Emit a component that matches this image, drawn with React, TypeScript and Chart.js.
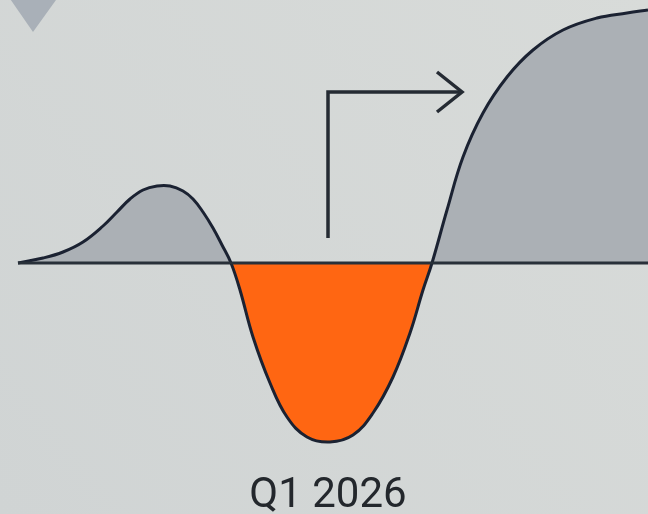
import React, { useEffect, useRef } from "react";
import { Chart, registerables } from "chart.js";

Chart.register(...registerables);

// Main curve (x position along the timeline, value relative to the baseline)
const curveX = [18, 43, 63, 83, 103, 117, 130, 143, 157, 170, 183, 193, 203, 213, 222, 231, 240, 253, 270, 287, 307, 330, 353, 373, 393, 410, 423, 432, 447, 463, 483, 507, 533, 563, 597, 627, 648];
const curveY = [0, 5, 11, 21, 37, 51, 64, 73, 77, 77, 72, 64, 51, 35, 18, 0, -27, -74, -120, -154, -174, -179, -172, -150, -114, -70, -27, 0, 53, 106, 150, 186, 213, 233, 245, 250, 253];

// Baseline
const baseX = [18, 648];
const baseY = [0, 0];

// Turn arrow
const arrowX = [328, 328, 461];
const arrowY = [25, 171, 171];
const headX = [437, 462, 437];
const headY = [191, 171, 151];

// Cut-off marker at top-left
const markX = [6, 61, 33, 6];
const markY = [270, 270, 231, 270];

const labelText = "Q1 2026";
const labelX = 328;
const labelY = -244;

const X_MIN = 0, X_MAX = 648, Y_MIN = -251, Y_MAX = 263;

const pts = (xs: number[], ys: number[]) => xs.map((x, i) => ({ x, y: ys[i] }));

export default function App() {
  const ref = useRef<HTMLCanvasElement | null>(null);
  useEffect(() => {
    document.body.style.margin = "0";
    const canvas = ref.current!;
    const bgPlugin = {
      id: "bg",
      beforeDraw(chart: any) {
        const { ctx, width, height } = chart;
        const g = ctx.createLinearGradient(0, height, width, 0);
        g.addColorStop(0, "#d0d4d4");
        g.addColorStop(1, "#d8dbd9");
        ctx.save();
        ctx.fillStyle = g;
        ctx.fillRect(0, 0, width, height);
        ctx.restore();
      },
    };
    const textPlugin = {
      id: "label",
      afterDraw(chart: any) {
        const { ctx } = chart;
        const x = chart.scales.x.getPixelForValue(labelX);
        const y = chart.scales.y.getPixelForValue(labelY);
        ctx.save();
        ctx.font = "42px Roboto";
        ctx.fillStyle = "#23272c";
        ctx.textAlign = "center";
        ctx.textBaseline = "alphabetic";
        ctx.fillText(labelText, x, y);
        ctx.restore();
      },
    };
    const chart = new Chart(canvas, {
      type: "line",
      data: {
        datasets: [
          {
            data: pts(baseX, baseY),
            borderColor: "#283039",
            borderWidth: 3,
            pointRadius: 0,
            fill: false,
            order: 0,
          },
          {
            data: pts(curveX, curveY),
            borderColor: "#1b2232",
            borderWidth: 3,
            pointRadius: 0,
            tension: 0.4,
            fill: { target: "origin", above: "#abb0b5", below: "#ff6612" },
            order: 1,
          },
          {
            data: pts(arrowX, arrowY),
            borderColor: "#252b33",
            borderWidth: 3.5,
            borderJoinStyle: "miter",
            pointRadius: 0,
            tension: 0,
            fill: false,
            order: 2,
          },
          {
            data: pts(headX, headY),
            borderColor: "#252b33",
            borderWidth: 3.5,
            borderJoinStyle: "miter",
            pointRadius: 0,
            tension: 0,
            fill: false,
            order: 2,
          },
          {
            data: pts(markX, markY),
            borderWidth: 0,
            borderColor: "rgba(0,0,0,0)",
            backgroundColor: "#a9b0b8",
            pointRadius: 0,
            tension: 0,
            fill: "shape",
            order: 3,
          },
        ],
      },
      options: {
        animation: false,
        responsive: false,
        layout: { padding: 0 },
        plugins: { legend: { display: false }, tooltip: { enabled: false } },
        scales: {
          x: { type: "linear", min: X_MIN, max: X_MAX, display: false },
          y: { type: "linear", min: Y_MIN, max: Y_MAX, display: false },
        },
      },
      plugins: [bgPlugin, textPlugin],
    } as any);
    return () => chart.destroy();
  }, []);
  return (
    <div style={{ position: "fixed", left: 0, top: 0, width: 648, height: 514 }}>
      <canvas ref={ref} width={648} height={514} />
    </div>
  );
}
